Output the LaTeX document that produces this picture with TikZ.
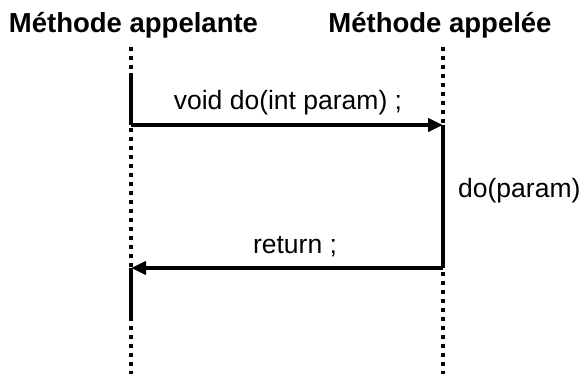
\documentclass[tikz,border=0pt]{standalone}
\usepackage{fontspec}
\setmainfont{Liberation Sans}
\usetikzlibrary{arrows.meta}

\tikzset{
  titre/.style={anchor=base, font=\fontsize{27.5}{30}\selectfont\bfseries, inner sep=0pt},
  texte/.style={anchor=base, font=\fontsize{26.5}{30}\selectfont, inner sep=0pt},
  vie/.style={line width=4pt, dash pattern=on 4pt off 5pt},
  actif/.style={line width=4pt},
  msg/.style={line width=4pt, -{Triangle[length=15pt,width=13pt]}}
}

\begin{document}
\begin{tikzpicture}[x=1pt, y=-1pt]
      \useasboundingbox (0,0) rectangle (586,374);
      % en-tetes
      \node[titre] (appelante) at (133.5,33) {Méthode appelante};
      \node[titre] (appelee) at (440,33) {Méthode appelée};
      % points des lignes de vie
      \coordinate (g0) at (131,47);  \coordinate (d0) at (443,47);
      \coordinate (g1) at (131,73);
      \coordinate (g2) at (131,125); \coordinate (d2) at (443,125);
      \coordinate (g3) at (131,268); \coordinate (d3) at (443,268);
      \coordinate (g4) at (131,320);
      \coordinate (g5) at (131,374); \coordinate (d5) at (443,374);
      \draw[vie] (g0) -- (g5);
      \draw[vie] (d0) -- (d5);
      \draw[actif] (g1) -- (g2);
      \draw[actif] (d2) -- (d3);
      \draw[actif] (g3) -- (g4);
      % messages
      \draw[msg] (g2) -- (d2);
      \draw[msg] (d3) -- (g3);
      \node[texte] (appel) at (288,110) {void do(int param) ;};
      \node[texte, anchor=base west] (corps) at (458,198) {do(param)};
      \node[texte] (retour) at (295,253) {return ;};
\end{tikzpicture}
\end{document}
